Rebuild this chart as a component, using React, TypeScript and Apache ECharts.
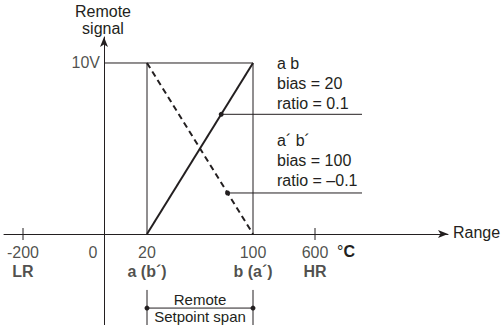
import { useEffect, useRef } from "react";
import * as echarts from "echarts";

// ---- data ----
const xTickValues = [-200, 0, 20, 100, 600];
const xTickNames = ["LR", "", "a (b´)", "b (a´)", "HR"];
const signalMax = 10;
const signalTickLabel = "10V";
const spanStart = 20;
const spanEnd = 100;
const abLine = [
  [20, 0],
  [100, 10],
];
const abPrimeLine = [
  [20, 10],
  [100, 0],
];
const abCallout = ["a b", "bias = 20", "ratio = 0.1"];
const abPrimeCallout = ["a´ b´", "bias = 100", "ratio = –0.1"];
const abLeaderSignal = 7;
const abPrimeLeaderSignal = 2.4;

// ---- layout (schematic, broken x axis) ----
const X_SCHEMATIC = [-81, 0, 43, 149, 211];
const X_MIN = -100;
const X_MAX = 344;
const Y_MIN = -5.32;
const Y_MAX = 11.52;
const LEADER_END = 258;
const TICK_HALF = 0.35;
const BRACKET_TOP = -3.27;
const BRACKET_BOTTOM = -5.32;
const BRACKET_BAR = -4.33;

const INK = "#231f20";
const FONT = "'Liberation Sans', Arial, Helvetica, sans-serif";
const FS = 16;

function sx(v: number): number {
  const xs = xTickValues;
  const ps = X_SCHEMATIC;
  let i = 0;
  if (v <= xs[0]) i = 0;
  else if (v >= xs[xs.length - 1]) i = xs.length - 2;
  else {
    while (i < xs.length - 2 && v > xs[i + 1]) i++;
  }
  const t = (v - xs[i]) / (xs[i + 1] - xs[i]);
  return ps[i] + t * (ps[i + 1] - ps[i]);
}

function xAtSignal(line: number[][], s: number): number {
  const [x0, y0] = line[0];
  const [x1, y1] = line[1];
  return x0 + ((s - y0) / (y1 - y0)) * (x1 - x0);
}

function seg(data: any[], width: number, type: any = "solid", extra: any = {}) {
  return {
    type: "line",
    data,
    symbol: "none",
    silent: true,
    clip: false,
    lineStyle: { color: INK, width, type },
    ...extra,
  };
}

export default function App() {
  const ref = useRef<HTMLDivElement>(null);

  useEffect(() => {
    document.body.style.margin = "0";
    const chart = echarts.init(ref.current!, null, { renderer: "svg" });

    const mapLine = (l: number[][]) => l.map(([x, y]) => [sx(x), y]);
    const abDotX = sx(xAtSignal(abLine, abLeaderSignal));
    const abpDotX = sx(xAtSignal(abPrimeLine, abPrimeLeaderSignal));

    const leader = (x: number, y: number) =>
      seg(
        [
          { value: [x, y], symbol: "circle", symbolSize: 5, itemStyle: { color: INK } },
          { value: [LEADER_END, y], symbol: "none" },
        ],
        1,
        "solid",
        { symbol: "circle", showSymbol: true, itemStyle: { color: INK } }
      );

    const tickSeg = (v: number) => seg([[sx(v), -TICK_HALF], [sx(v), TICK_HALF]], 1);

    const richBase = {
      n: { fontSize: FS, fontFamily: FONT, color: INK, lineHeight: 19 },
      b: { fontSize: FS, fontFamily: FONT, color: INK, fontWeight: "bold", lineHeight: 19 },
    };

    const txt = (text: string, x: number, y: number, extra: any = {}) => ({
      type: "text",
      x,
      y,
      style: { text, fontSize: FS, fontFamily: FONT, fill: INK, ...extra },
    });

    const option: any = {
      animation: false,
      grid: { left: 4, right: 56, top: 37, bottom: 0, containLabel: false, outerBoundsMode: "none" },
      xAxis: {
        type: "value",
        min: X_MIN,
        max: X_MAX,
        splitLine: { show: false },
        axisTick: { show: false },
        axisLabel: { show: false },
        axisLine: {
          onZero: true,
          symbol: ["none", "arrow"],
          symbolSize: [6, 10],
          lineStyle: { color: INK, width: 1 },
        },
      },
      yAxis: {
        type: "value",
        min: Y_MIN,
        max: Y_MAX,
        splitLine: { show: false },
        axisTick: { show: false },
        axisLabel: { show: false },
        axisLine: {
          show: true,
          onZero: true,
          symbol: ["none", "arrow"],
          symbolSize: [6, 10],
          lineStyle: { color: INK, width: 1 },
        },
      },
      series: [
        // frame
        seg(
          [
            [sx(0), signalMax],
            [sx(spanEnd), signalMax],
            [sx(spanEnd), 0],
          ],
          1
        ),
        seg(
          [
            [sx(spanStart), 0],
            [sx(spanStart), signalMax],
          ],
          1
        ),
        // characteristic lines
        seg(mapLine(abLine), 2),
        seg(mapLine(abPrimeLine), 2, [6, 4]),
        // leaders
        leader(abDotX, abLeaderSignal),
        leader(abpDotX, abPrimeLeaderSignal),
        // ticks at LR / HR
        tickSeg(xTickValues[0]),
        tickSeg(xTickValues[4]),
        // remote setpoint span bracket
        seg(
          [
            [sx(spanStart), BRACKET_TOP],
            [sx(spanStart), BRACKET_BOTTOM],
          ],
          1
        ),
        seg(
          [
            [sx(spanEnd), BRACKET_TOP],
            [sx(spanEnd), BRACKET_BOTTOM],
          ],
          1
        ),
        seg(
          [
            [sx(spanStart), BRACKET_BAR],
            [sx(spanEnd), BRACKET_BAR],
          ],
          1,
          "solid",
          { symbol: "circle", symbolSize: 5, showSymbol: true, itemStyle: { color: INK } }
        ),
        // x tick labels
        {
          type: "scatter",
          silent: true,
          symbolSize: 0,
          clip: false,
          data: xTickValues.map((v, i) => ({
            value: [sx(v), 0],
            label: {
              offset: v === 0 ? [-11, 0] : [0, 0],
              formatter: xTickNames[i]
                ? `{n|${v}}\n{b|${xTickNames[i]}}`
                : `{n|${v}}\n{b| }`,
            },
          })),
          label: {
            show: true,
            position: "bottom",
            distance: 9,
            rich: richBase,
          },
        },
        // y tick label
        {
          type: "scatter",
          silent: true,
          symbolSize: 0,
          clip: false,
          data: [[sx(0), signalMax]],
          label: {
            show: true,
            position: "left",
            distance: 4,
            formatter: signalTickLabel,
            fontSize: FS,
            fontFamily: FONT,
            color: INK,
          },
        },
      ],
      graphic: [
        txt("Remote\nsignal", 103, 3, { align: "center", lineHeight: 17 }),
        txt(abCallout.join("\n"), 277, 53, { lineHeight: 20 }),
        txt(abPrimeCallout.join("\n"), 277, 130, { lineHeight: 20 }),
        txt("Range", 453, 224),
        {
          type: "text",
          x: 337,
          y: 243,
          style: {
            text: "{d|°}{c|C}",
            rich: {
              d: { fontSize: FS, fontFamily: FONT, fill: INK },
              c: { fontSize: FS, fontFamily: FONT, fill: INK, fontWeight: "bold" },
            },
          },
        },
        txt("Remote", 200, 299, { align: "center", verticalAlign: "middle", fontSize: 15 }),
        txt("Setpoint span", 200, 316, { align: "center", verticalAlign: "middle", fontSize: 15 }),
      ],
    };

    chart.setOption(option);
    return () => chart.dispose();
  }, []);

  return <div ref={ref} style={{ width: 504, height: 325 }} />;
}
